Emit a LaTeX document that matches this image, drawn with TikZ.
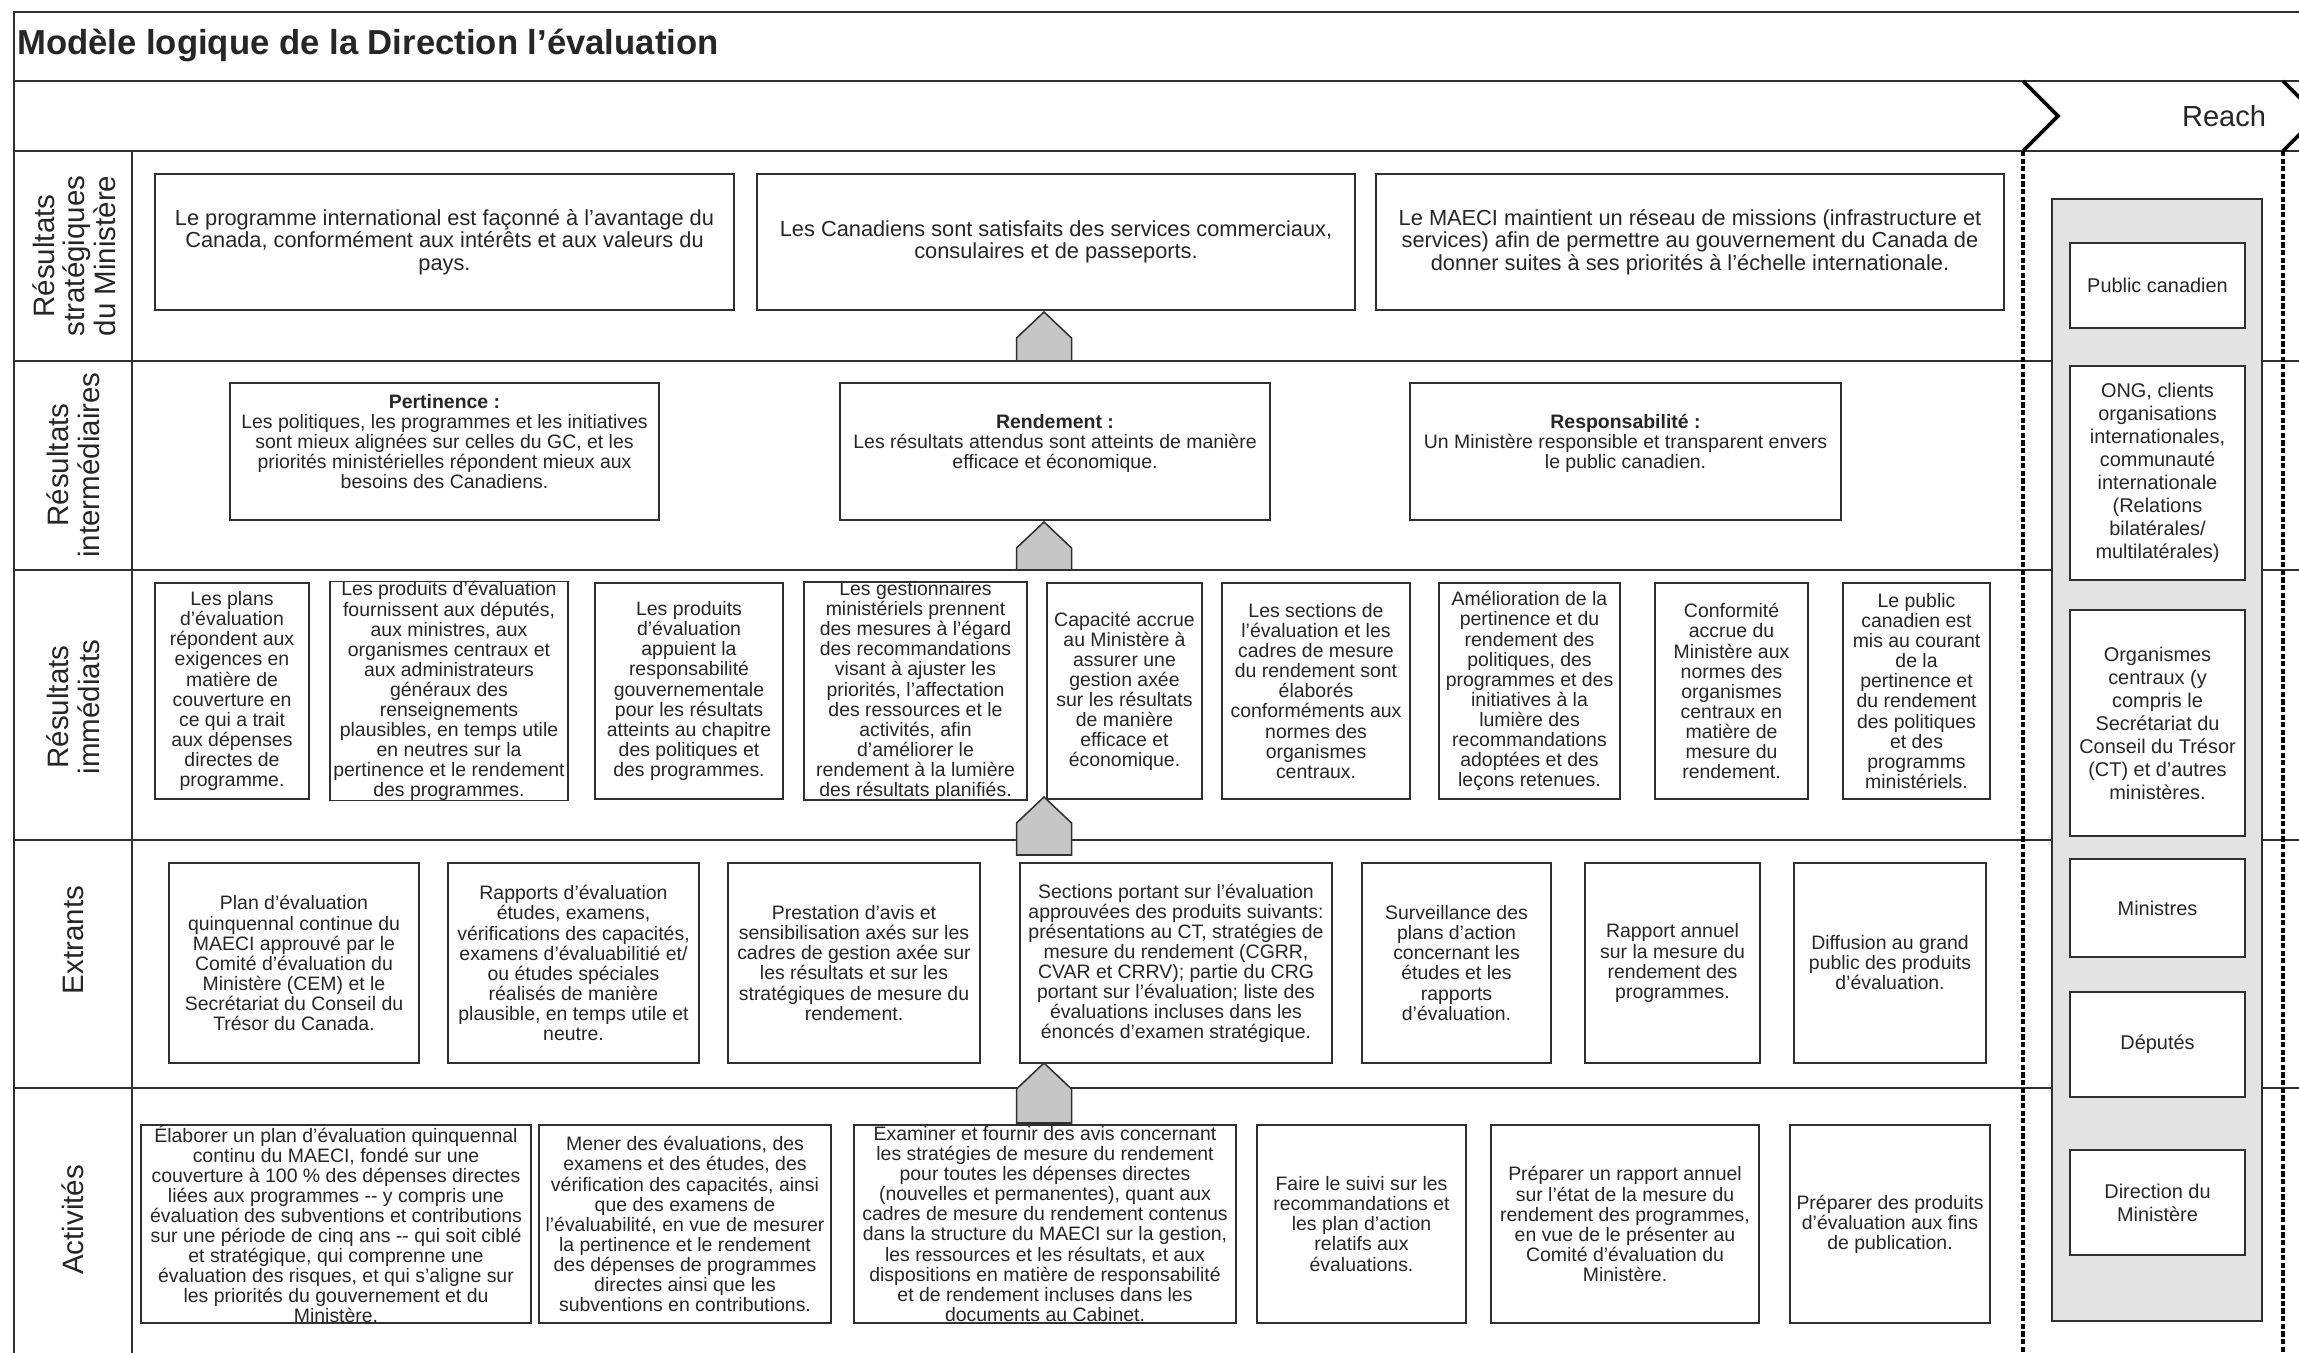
\documentclass[tikz,border=0pt]{standalone}
\usepackage{fontspec}
\setmainfont{Liberation Sans}
\definecolor{trait}{HTML}{303030}
\definecolor{fond}{HTML}{E3E3E3}
\definecolor{bloc}{HTML}{C6C6C6}
\begin{document}
\begin{tikzpicture}[x=0.3mm, y=-0.3mm,
	every node/.style={text=black!85, align=center, inner sep=0pt},
	taille/.style 2 args={minimum width=#1*0.3mm, minimum height=#2*0.3mm},
	boite/.style={draw=trait, line width=1.4pt, fill=white, font=\fontsize{16.6}{17.1}\selectfont},
	grande/.style={boite, font=\fontsize{18.6}{19.2}\selectfont},
	cible/.style={boite, font=\fontsize{17}{19.6}\selectfont},
	rangee/.style={rotate=90, font=\fontsize{25.2}{26.2}\selectfont},
	cadre/.style={draw=trait, line width=2pt},
	chevron/.style={draw=black, line width=3.2pt, line join=miter},
	pointille/.style={draw=black, line width=3.4pt, dash pattern=on 4.5pt off 2pt},
	fleche/.style={draw=trait, line width=1.3pt, fill=bloc}]
	
	\useasboundingbox (0,0) rectangle (2299,1353);
	
	\draw[cadre] (2330,12) -- (14,12) -- (14,1370);
	\foreach \y in {81,151,361,570,840,1088}
		\draw[cadre] (14,\y) -- (2330,\y);
	\draw[cadre] (132,151) -- (132,1370);
	\draw[chevron] (2023,81) -- (2058,116) -- (2023,151);
	\draw[chevron] (2283,81) -- (2318,116) -- (2283,151);
	\draw[pointille] (2023,151) -- (2023,1370);
	\draw[pointille] (2283,151) -- (2283,1370);
	
	\node[anchor=west, font=\fontsize{29.6}{31}\selectfont\bfseries] at (17,45) (titre) {Modèle logique de la Direction l’évaluation};
	\node[font=\fontsize{24.8}{26}\selectfont] at (2224,116) (reach) {Reach};
	
	\node[rangee] at (74,256) (rs) {Résultats\\stratégiques\\du Ministère};
	\node[rangee] at (73,465) (ri) {Résultats\\intermédiaires};
	\node[rangee] at (73,707) (rm) {Résultats\\immédiats};
	\node[rangee] at (73,940) (re) {Extrants};
	\node[rangee] at (73,1220) (ra) {Activités};
	
	\node[grande, taille={579}{136}] at (444.5,242) (s1) {Le programme international est façonné à l’avantage du\\Canada, conformément aux intérêts et aux valeurs du\\pays.};
	\node[grande, taille={598}{136}] at (1056,242) (s2) {Les Canadiens sont satisfaits des services commerciaux,\\consulaires et de passeports.};
	\node[grande, taille={628}{136}] at (1690,242) (s3) {Le MAECI maintient un réseau de missions (infrastructure et\\services) afin de permettre au gouvernement du Canada de\\donner suites à ses priorités à l’échelle internationale.};
	
	\node[boite, taille={429}{137}] at (444.5,451.5) (i1) {\textbf{Pertinence :}\\Les politiques, les programmes et les initiatives\\sont mieux alignées sur celles du GC, et les\\priorités ministérielles répondent mieux aux\\besoins des Canadiens.\\~};
	\node[boite, taille={430}{137}] at (1055,451.5) (i2) {\textbf{Rendement :}\\Les résultats attendus sont atteints de manière\\efficace et économique.\\~};
	\node[boite, taille={431}{137}] at (1625.5,451.5) (i3) {\textbf{Responsabilité :}\\Un Ministère responsible et transparent envers\\le public canadien.\\~};
	
	\node[boite, taille={154}{216}] at (232,691) (m1) {Les plans\\d’évaluation\\répondent aux\\exigences en\\matière de\\couverture en\\ce qui a trait\\aux dépenses\\directes de\\programme.};
	\node[boite, taille={238}{216}] at (449,691) (m2) {Les produits d’évaluation\\fournissent aux députés,\\aux ministres, aux\\organismes centraux et\\aux administrateurs\\généraux des\\renseignements\\plausibles, en temps utile\\en neutres sur la\\pertinence et le rendement\\des programmes.};
	\node[boite, taille={188}{216}] at (689,691) (m3) {Les produits\\d’évaluation\\appuient la\\responsabilité\\gouvernementale\\pour les résultats\\atteints au chapitre\\des politiques et\\des programmes.};
	\node[boite, taille={223}{216}] at (915.5,691) (m4) {Les gestionnaires\\ministériels prennent\\des mesures à l’égard\\des recommandations\\visant à ajuster les\\priorités, l’affectation\\des ressources et le\\activités, afin\\d’améliorer le\\rendement à la lumière\\des résultats planifiés.};
	\node[boite, taille={155}{216}] at (1124.5,691) (m5) {Capacité accrue\\au Ministère à\\assurer une\\gestion axée\\sur les résultats\\de manière\\efficace et\\économique.};
	\node[boite, taille={188}{216}] at (1316,691) (m6) {Les sections de\\l’évaluation et les\\cadres de mesure\\du rendement sont\\élaborés\\conforméments aux\\normes des\\organismes\\centraux.};
	\node[boite, taille={181}{216}] at (1529.5,691) (m7) {Amélioration de la\\pertinence et du\\rendement des\\politiques, des\\programmes et des\\initiatives à la\\lumière des\\recommandations\\adoptées et des\\leçons retenues.};
	\node[boite, taille={153}{216}] at (1731.5,691) (m8) {Conformité\\accrue du\\Ministère aux\\normes des\\organismes\\centraux en\\matière de\\mesure du\\rendement.};
	\node[boite, taille={147}{216}] at (1916.5,691) (m9) {Le public\\canadien est\\mis au courant\\de la\\pertinence et\\du rendement\\des politiques\\et des\\programms\\ministériels.};
	
	\node[boite, taille={250}{200}] at (294,963) (e1) {Plan d’évaluation\\quinquennal continue du\\MAECI approuvé par le\\Comité d’évaluation du\\Ministère (CEM) et le\\Secrétariat du Conseil du\\Trésor du Canada.};
	\node[boite, taille={251}{200}] at (573.5,963) (e2) {Rapports d’évaluation\\études, examens,\\vérifications des capacités,\\examens d’évaluabilitié et/\\ou études spéciales\\réalisés de manière\\plausible, en temps utile et\\neutre.};
	\node[boite, taille={252}{200}] at (854,963) (e3) {Prestation d’avis et\\sensibilisation axés sur les\\cadres de gestion axée sur\\les résultats et sur les\\stratégiques de mesure du\\rendement.};
	\node[boite, taille={312}{200}] at (1176,963) (e4) {Sections portant sur l’évaluation\\approuvées des produits suivants:\\présentations au CT, stratégies de\\mesure du rendement (CGRR,\\CVAR et CRRV); partie du CRG\\portant sur l’évaluation; liste des\\évaluations incluses dans les\\énoncés d’examen stratégique.};
	\node[boite, taille={189}{200}] at (1456.5,963) (e5) {Surveillance des\\plans d’action\\concernant les\\études et les\\rapports\\d’évaluation.};
	\node[boite, taille={175}{200}] at (1672.5,963) (e6) {Rapport annuel\\sur la mesure du\\rendement des\\programmes.};
	\node[boite, taille={192}{200}] at (1890,963) (e7) {Diffusion au grand\\public des produits\\d’évaluation.};
	
	\node[boite, taille={390}{198}] at (336,1224) (a1) {Élaborer un plan d’évaluation quinquennal\\continu du MAECI, fondé sur une\\couverture à 100 \% des dépenses directes\\liées aux programmes -{}- y compris une\\évaluation des subventions et contributions\\sur une période de cinq ans -{}- qui soit ciblé\\et stratégique, qui comprenne une\\évaluation des risques, et qui s’aligne sur\\les priorités du gouvernement et du\\Ministère.};
	\node[boite, taille={292}{198}] at (685,1224) (a2) {Mener des évaluations, des\\examens et des études, des\\vérification des capacités, ainsi\\que des examens de\\l’évaluabilité, en vue de mesurer\\la pertinence et le rendement\\des dépenses de programmes\\directes ainsi que les\\subventions en contributions.};
	\node[boite, taille={382}{198}] at (1045,1224) (a3) {Examiner et fournir des avis concernant\\les stratégies de mesure du rendement\\pour toutes les dépenses directes\\(nouvelles et permanentes), quant aux\\cadres de mesure du rendement contenus\\dans la structure du MAECI sur la gestion,\\les ressources et les résultats, et aux\\dispositions en matière de responsabilité\\et de rendement incluses dans les\\documents au Cabinet.};
	\node[boite, taille={209}{198}] at (1361.5,1224) (a4) {Faire le suivi sur les\\recommandations et\\les plan d’action\\relatifs aux\\évaluations.};
	\node[boite, taille={268}{198}] at (1625,1224) (a5) {Préparer un rapport annuel\\sur l’état de la mesure du\\rendement des programmes,\\en vue de le présenter au\\Comité d’évaluation du\\Ministère.};
	\node[boite, taille={200}{198}] at (1890,1224) (a6) {Préparer des produits\\d’évaluation aux fins\\de publication.};
	
	\foreach \a/\b in {312/361, 522/570, 797/855, 1063/1123}
		\draw[fleche] (1044,\a) -- (1071.5,\a+26) -- (1071.5,\b) -- (1016.5,\b) -- (1016.5,\a+26) -- cycle;
	
	\node[draw=trait, line width=1.4pt, fill=fond, taille={210}{1122}] at (2157,760) (zone) {};
	\node[cible, taille={175}{85}] at (2157.5,285.5) (r1) {Public canadien};
	\node[cible, taille={175}{214}] at (2157.5,473) (r2) {ONG, clients\\organisations\\internationales,\\communauté\\internationale\\(Relations\\bilatérales/\\multilatérales)};
	\node[cible, taille={175}{226}] at (2157.5,723) (r3) {Organismes\\centraux (y\\compris le\\Secrétariat du\\Conseil du Trésor\\(CT) et d’autres\\ministères.};
	\node[cible, taille={175}{98}] at (2157.5,908) (r4) {Ministres};
	\node[cible, taille={175}{105}] at (2157.5,1044.5) (r5) {Députés};
	\node[cible, taille={175}{105}] at (2157.5,1202.5) (r6) {Direction du\\Ministère};
\end{tikzpicture}
\end{document}
